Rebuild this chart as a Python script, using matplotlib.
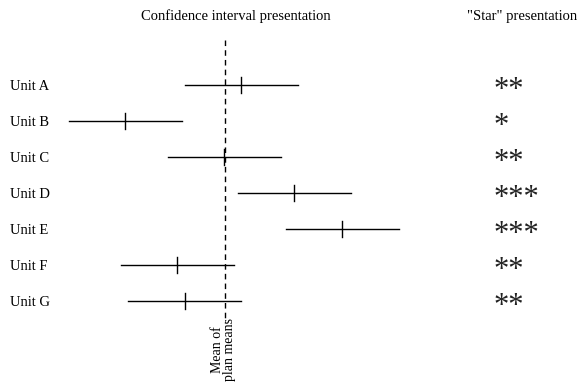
import matplotlib.pyplot as plt

units  = ['Unit A', 'Unit B', 'Unit C', 'Unit D', 'Unit E', 'Unit F', 'Unit G']
est    = [0.32, -2.00, -0.02, 1.38, 2.34, -0.96, -0.80]
lower  = [-0.80, -3.12, -1.14, 0.26, 1.22, -2.08, -1.94]
upper  = [1.46, -0.86, 1.12, 2.52, 3.48, 0.18, 0.32]
stars  = [2, 1, 2, 3, 3, 2, 2]

plt.rcParams['font.family'] = 'Liberation Serif'
fig = plt.figure(figsize=(5.77, 3.82), dpi=100)
ax = fig.add_axes([0, 0, 1, 1])
ax.set_xlim(-4.5, 7.04)
ax.set_ylim(8.25, -2.36)
ax.axis('off')

for i in range(len(units)):
    ax.plot([lower[i], upper[i]], [i, i], color='black', lw=1.0)
    ax.plot([est[i], est[i]], [i - 0.22, i + 0.22], color='black', lw=1.0)
    ax.text(-4.3, i + 0.05, units[i], fontsize=10.5, va='center', ha='left')
    ax.text(5.38, i + 0.36, '*' * stars[i], fontsize=22, va='baseline', ha='left',
            color='#222222')

ax.plot([0, 0], [-1.25, 6.6], color='black', lw=1.0, linestyle=(0, (4, 3)))
ax.text(-0.04, 7.36, 'Mean of\nplan means', rotation=90, fontsize=10,
        va='center', ha='center', multialignment='center', linespacing=0.9)

ax.text(0.22, -1.9, 'Confidence interval presentation', fontsize=10.5,
        ha='center', va='center')
ax.text(5.95, -1.9, '"Star" presentation', fontsize=10.5,
        ha='center', va='center')

fig.savefig('out.png', dpi=100)
